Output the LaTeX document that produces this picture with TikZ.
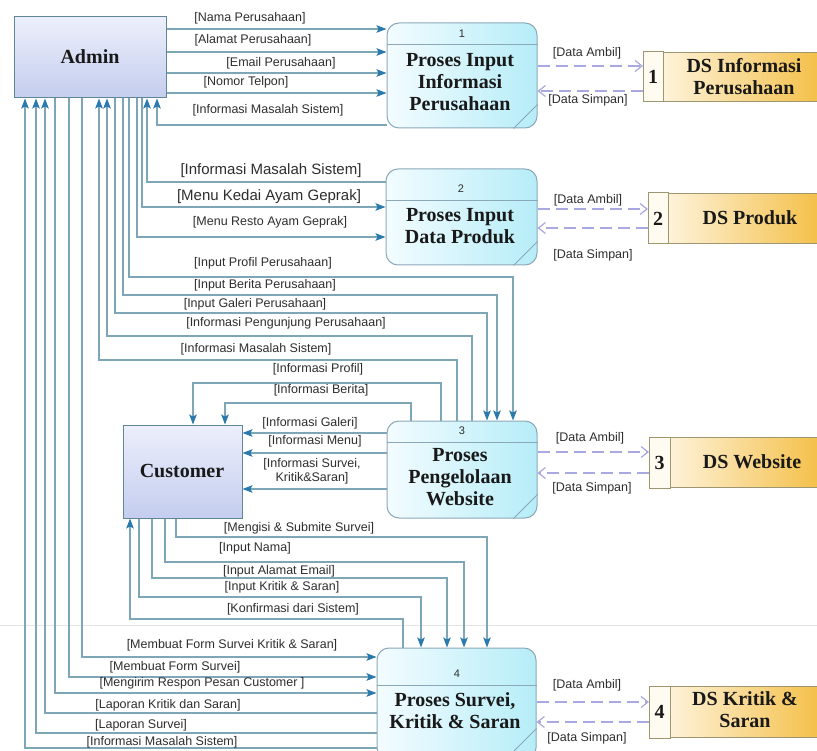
\documentclass[tikz,border=0pt]{standalone}
\usepackage{fontspec}
\setmainfont{Liberation Serif}
\newfontfamily\lblfont{Liberation Sans}
\usetikzlibrary{arrows.meta,calc}
\definecolor{wire}{HTML}{7DA7B6}
\definecolor{tipblue}{HTML}{2B7AAE}
\definecolor{entline}{HTML}{5F8797}
\definecolor{entTop}{HTML}{ECEFFB}
\definecolor{entBot}{HTML}{C4CDEE}
\definecolor{procline}{HTML}{8BA8B8}
\definecolor{procA}{HTML}{F3FCFF}
\definecolor{procB}{HTML}{B6EDF8}
\definecolor{storeline}{HTML}{9E9670}
\definecolor{storeA}{HTML}{FFF9EC}
\definecolor{storeB}{HTML}{F3BC3E}
\definecolor{cellfill}{HTML}{FFFBF0}
\definecolor{dsflow}{HTML}{A9A9E2}
\definecolor{lbltext}{HTML}{2E2E2E}
\tikzset{
  entity/.style={draw=entline, line width=1pt, top color=entTop, bottom color=entBot, inner sep=0pt},
  proc/.style={draw=procline, line width=1pt, rounded corners=12pt, left color=procA, right color=procB, inner sep=0pt},
  procrule/.style={draw=procline, line width=1pt},
  store/.style={draw=storeline, line width=1pt, left color=storeA, right color=storeB, inner sep=0pt},
  flow/.style={draw=wire, line width=1.2pt, -{Stealth[length=10pt,width=7.5pt,inset=2pt,color=tipblue]}},
  wireline/.style={draw=wire, line width=1.2pt},
  dflow/.style={draw=dsflow, line width=1.2pt, dash pattern=on 12pt off 6pt, -{Straight Barb[length=7pt,width=11pt]}},
  lbl/.style={font=\lblfont\fontsize{12.5}{14}\selectfont, text=lbltext, inner sep=0pt, align=center},
  biglbl/.style={font=\lblfont\fontsize{15}{17}\selectfont, text=lbltext, inner sep=0pt},
  title/.style={font=\bfseries\fontsize{20}{22}\selectfont, text=black!90, align=center, inner sep=0pt},
  pnum/.style={font=\lblfont\fontsize{11}{12}\selectfont, text=lbltext, inner sep=0pt},
}
\begin{document}
\begin{tikzpicture}[x=1pt,y=-1pt]
\useasboundingbox (0,0) rectangle (817,751);
\clip (0,0) rectangle (817,751);
\fill[white] (0,0) rectangle (817,751);
% faint seam across the sheet
\draw[gray!22, line width=0.7pt] (0,625) -- (817,625);

% ---------- external entities ----------
\node[entity, minimum width=152pt, minimum height=81pt] (admin) at (90,57.5) {};
\node[title] (admint) at (90,57) {Admin};
\node[entity, minimum width=119pt, minimum height=93pt] (customer) at (182.5,471.5) {};
\node[title] (customert) at (182,471) {Customer};

% ---------- processes ----------
\node[proc, minimum width=150pt, minimum height=105pt] (p1) at (462,75.5) {};
\draw[procrule] (p1.west |- 0,45) -- (p1.east |- 0,45);
\draw[procrule] ($(p1.south east)+(-24,0)$) -- ($(p1.south east)+(0,-24)$);
\node[pnum] (p1n) at (462,34) {1};
\node[title] (p1t) at (460,82) {Proses Input\\Informasi\\Perusahaan};

\node[proc, minimum width=151pt, minimum height=96pt] (p2) at (461.5,217) {};
\draw[procrule] (p2.west |- 0,201) -- (p2.east |- 0,201);
\draw[procrule] ($(p2.south east)+(-24,0)$) -- ($(p2.south east)+(0,-24)$);
\node[pnum] (p2n) at (461,189) {2};
\node[title] (p2t) at (460,226) {Proses Input\\Data Produk};

\node[proc, minimum width=150pt, minimum height=97pt] (p3) at (462,469.5) {};
\draw[procrule] (p3.west |- 0,442) -- (p3.east |- 0,442);
\draw[procrule] ($(p3.south east)+(-24,0)$) -- ($(p3.south east)+(0,-24)$);
\node[pnum] (p3n) at (462,431) {3};
\node[title] (p3t) at (460,477) {Proses\\Pengelolaan\\Website};

\node[proc, minimum width=159pt, minimum height=112pt] (p4) at (456.5,704) {};
\draw[procrule] (p4.west |- 0,685) -- (p4.east |- 0,685);
\draw[procrule] ($(p4.south east)+(-32,0)$) -- ($(p4.south east)+(0,-32)$);
\node[pnum] (p4n) at (457,674) {4};
\node[title] (p4t) at (455,711) {Proses Survei,\\Kritik \& Saran};

% ---------- data stores ----------
\node[store, minimum width=187pt, minimum height=49pt, anchor=north west] (ds1) at (643,52) {};
\filldraw[fill=cellfill, draw=storeline, line width=1pt] (ds1.north west) rectangle ($(ds1.south west)+(20,0)$);
\node[title] (ds1n) at ($(ds1.west)+(10,0)$) {1};
\node[title] (ds1t) at (744,77) {DS Informasi\\Perusahaan};

\node[store, minimum width=182pt, minimum height=50pt, anchor=north west] (ds2) at (648,193) {};
\filldraw[fill=cellfill, draw=storeline, line width=1pt] (ds2.north west) rectangle ($(ds2.south west)+(20,0)$);
\node[title] (ds2n) at ($(ds2.west)+(10,0)$) {2};
\node[title] (ds2t) at (750,218) {DS Produk};

\node[store, minimum width=181pt, minimum height=50pt, anchor=north west] (ds3) at (649,437) {};
\filldraw[fill=cellfill, draw=storeline, line width=1pt] (ds3.north west) rectangle ($(ds3.south west)+(21,0)$);
\node[title] (ds3n) at ($(ds3.west)+(10.5,0)$) {3};
\node[title] (ds3t) at (752,462) {DS Website};

\node[store, minimum width=181pt, minimum height=51pt, anchor=north west] (ds4) at (649,686) {};
\filldraw[fill=cellfill, draw=storeline, line width=1pt] (ds4.north west) rectangle ($(ds4.south west)+(21,0)$);
\node[title] (ds4n) at ($(ds4.west)+(10.5,0)$) {4};
\node[title] (ds4t) at (745,710) {DS Kritik \&\\Saran};

% ---------- Admin <-> process 1 ----------
\draw[flow] (admin.east |- 0,29) -- (p1.west |- 0,29);
\draw[flow] (admin.east |- 0,52) -- (p1.west |- 0,52);
\draw[flow] (admin.east |- 0,73) -- (p1.west |- 0,73);
\draw[flow] (admin.east |- 0,93) -- (p1.west |- 0,93);
\draw[flow] (p1.west |- 0,125) -| (admin.south -| 157,0);
\node[lbl] (l01) at (250,18) {[Nama Perusahaan]};
\node[lbl] (l02) at (253,40) {[Alamat Perusahaan]};
\node[lbl] (l03) at (281,63) {[Email Perusahaan]};
\node[lbl] (l04) at (246,82) {[Nomor Telpon]};
\node[lbl] (l05) at (268,110) {[Informasi Masalah Sistem]};

% ---------- Admin <-> process 2 ----------
\draw[flow] (p2.west |- 0,182) -| (admin.south -| 147,0);
\draw[flow] (admin.south -| 142,0) |- (p2.west |- 0,207);
\draw[flow] (admin.south -| 137,0) |- (p2.west |- 0,237);
\node[biglbl] (l06) at (271,171) {[Informasi Masalah Sistem]};
\node[biglbl] (l07) at (269,197) {[Menu Kedai Ayam Geprak]};
\node[lbl] (l08) at (270,222) {[Menu Resto Ayam Geprak]};

% ---------- Admin <-> process 3 ----------
\draw[flow] (admin.south -| 129,0) |- (513,277) -- (p3.north -| 513,0);
\draw[flow] (admin.south -| 123,0) |- (497,295) -- (p3.north -| 497,0);
\draw[flow] (admin.south -| 115,0) |- (487,313) -- (p3.north -| 487,0);
\draw[flow] (p3.north -| 472,0) -- (472,336) -| (admin.south -| 107,0);
\draw[flow] (p3.north -| 457,0) -- (457,360) -| (admin.south -| 99,0);
\node[lbl] (l09) at (263,263) {[Input Profil Perusahaan]};
\node[lbl] (l10) at (265,285) {[Input Berita Perusahaan]};
\node[lbl] (l11) at (255,304) {[Input Galeri Perusahaan]};
\node[lbl] (l12) at (286,323) {[Informasi Pengunjung Perusahaan]};
\node[lbl] (l13) at (256,349) {[Informasi Masalah Sistem]};

% ---------- process 3 -> Customer ----------
\draw[flow] (p3.north -| 441,0) -- (441,383) -| (customer.north -| 193,0);
\draw[flow] (p3.north -| 411,0) -- (411,403) -| (customer.north -| 225,0);
\draw[flow] (p3.west |- 0,433) -- (customer.east |- 0,433);
\draw[flow] (p3.west |- 0,453) -- (customer.east |- 0,453);
\draw[flow] (p3.west |- 0,489) -- (customer.east |- 0,489);
\node[lbl] (l14) at (318,369) {[Informasi Profil]};
\node[lbl] (l15) at (321,390) {[Informasi Berita]};
\node[lbl] (l16) at (310,423) {[Informasi Galeri]};
\node[lbl] (l17) at (315,441) {[Informasi Menu]};
\node[lbl] (l18) at (312,471) {[Informasi Survei,\\Kritik\&Saran]};

% ---------- Customer <-> process 4 ----------
\draw[flow] (customer.south -| 176,0) |- (487,537) -- (p4.north -| 487,0);
\draw[flow] (customer.south -| 165,0) |- (464,562) -- (p4.north -| 464,0);
\draw[flow] (customer.south -| 152,0) |- (447,578) -- (p4.north -| 447,0);
\draw[flow] (customer.south -| 139,0) |- (421,597) -- (p4.north -| 421,0);
\draw[flow] (p4.north -| 403,0) -- (403,619) -| (customer.south -| 130,0);
\node[lbl] (l19) at (299,528) {[Mengisi \& Submite Survei]};
\node[lbl] (l20) at (255,548) {[Input Nama]};
\node[lbl] (l21) at (279,571) {[Input Alamat Email]};
\node[lbl] (l22) at (282,587) {[Input Kritik \& Saran]};
\node[lbl] (l23) at (293,609) {[Konfirmasi dari Sistem]};

% ---------- Admin <-> process 4 ----------
\draw[flow] (admin.south -| 82,0) |- (p4.west |- 0,657);
\draw[flow] (admin.south -| 69,0) |- (p4.west |- 0,677);
\draw[flow] (admin.south -| 55,0) |- (p4.west |- 0,693);
\draw[flow] (p4.west |- 0,713) -| (admin.south -| 45,0);
\draw[flow] (p4.west |- 0,733) -| (admin.south -| 36,0);
\draw[flow] (p4.west |- 0,748) -| (admin.south -| 25,0);
\node[lbl] (l24) at (232,645) {[Membuat Form Survei Kritik \& Saran]};
\node[lbl] (l25) at (175,667) {[Membuat Form Survei]};
\node[lbl] (l26) at (202,683) {[Mengirim Respon Pesan Customer ]};
\node[lbl] (l27) at (168,705) {[Laporan Kritik dan Saran]};
\node[lbl] (l28) at (141,725) {[Laporan Survei]};
\node[lbl] (l29) at (162,742) {[Informasi Masalah Sistem]};

% ---------- processes <-> data stores ----------
\draw[dflow] (p1.east |- 0,66) -- (ds1.west |- 0,66);
\draw[dflow] (ds1.west |- 0,91) -- (p1.east |- 0,91);
\node[lbl] (d1a) at (587,53) {[Data Ambil]};
\node[lbl] (d1s) at (588,100) {[Data Simpan]};

\draw[dflow] (p2.east |- 0,209) -- (ds2.west |- 0,209);
\draw[dflow] (ds2.west |- 0,228) -- (p2.east |- 0,228);
\node[lbl] (d2a) at (588,200) {[Data Ambil]};
\node[lbl] (d2s) at (593,255) {[Data Simpan]};

\draw[dflow] (p3.east |- 0,452) -- (ds3.west |- 0,452);
\draw[dflow] (ds3.west |- 0,473) -- (p3.east |- 0,473);
\node[lbl] (d3a) at (590,438) {[Data Ambil]};
\node[lbl] (d3s) at (592,488) {[Data Simpan]};

\draw[dflow] (p4.east |- 0,702) -- (ds4.west |- 0,702);
\draw[dflow] (ds4.west |- 0,722) -- (p4.east |- 0,722);
\node[lbl] (d4a) at (587,685) {[Data Ambil]};
\node[lbl] (d4s) at (587,738) {[Data Simpan]};
\end{tikzpicture}
\end{document}
